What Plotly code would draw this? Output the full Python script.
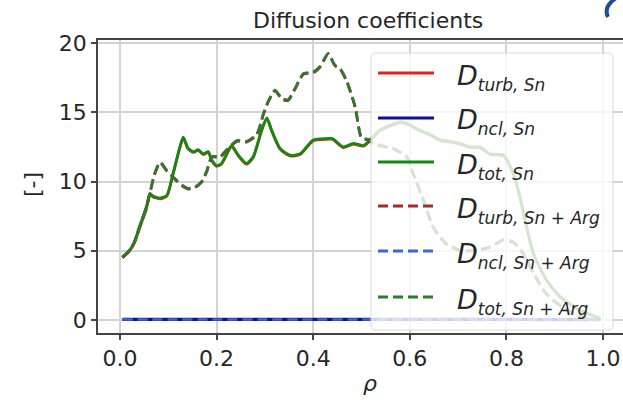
import plotly.graph_objects as go

# ---------------- data ----------------
rho_Sn = [0.005, 0.02, 0.03, 0.04, 0.055, 0.062, 0.068, 0.083, 0.097, 0.11, 0.124, 0.131,
          0.141, 0.152, 0.162, 0.172, 0.183, 0.19, 0.2, 0.21, 0.221, 0.231, 0.245, 0.262,
          0.276, 0.293, 0.304, 0.314, 0.331, 0.352, 0.373, 0.4, 0.428, 0.44, 0.462, 0.483,
          0.504, 0.518, 0.538, 0.58, 0.6, 0.621, 0.642, 0.663, 0.683, 0.704, 0.725, 0.745,
          0.766, 0.794, 0.814, 0.828, 0.842, 0.856, 0.883, 0.911, 0.952, 0.994]
D_turb_Sn = [4.5, 5.0, 5.6, 6.6, 8.1, 9.1, 8.9, 8.75, 8.95, 10.55, 12.45, 13.15,
             12.35, 12.1, 12.25, 11.95, 12.1, 11.5, 11.1, 11.25, 11.95, 12.55, 11.85, 11.25,
             11.75, 13.65, 14.55, 13.65, 12.35, 11.85, 11.95, 12.95, 13.05, 13.05, 12.45, 12.7,
             12.55, 12.95, 13.65, 14.25, 14.05, 13.65, 13.35, 12.95, 12.85, 12.7, 12.45, 12.45,
             11.95, 11.85, 10.55, 8.85, 6.65, 4.75, 2.85, 1.65, 0.7, 0.1]
D_tot_Sn = [4.55, 5.05, 5.65, 6.7, 8.2, 9.15, 8.95, 8.8, 9.0, 10.6, 12.5, 13.2,
            12.4, 12.15, 12.3, 12.0, 12.15, 11.55, 11.15, 11.3, 12.0, 12.6, 11.9, 11.3,
            11.8, 13.7, 14.6, 13.7, 12.4, 11.9, 12.0, 13.0, 13.1, 13.1, 12.5, 12.75,
            12.6, 13.0, 13.7, 14.3, 14.1, 13.7, 13.4, 13.0, 12.9, 12.75, 12.5, 12.5,
            12.0, 11.9, 10.6, 8.9, 6.7, 4.8, 2.9, 1.7, 0.72, 0.12]

rho_SnArg = [0.005, 0.02, 0.03, 0.04, 0.055, 0.062, 0.072, 0.083, 0.097, 0.114, 0.128, 0.141,
             0.155, 0.169, 0.18, 0.19, 0.207, 0.221, 0.242, 0.262, 0.283, 0.297, 0.307, 0.321,
             0.335, 0.348, 0.362, 0.38, 0.4, 0.414, 0.431, 0.445, 0.455, 0.469, 0.487, 0.5,
             0.518, 0.524, 0.566, 0.594, 0.607, 0.628, 0.649, 0.676, 0.704, 0.738, 0.766,
             0.794, 0.814, 0.835, 0.856, 0.883, 0.925, 0.966, 0.995]
D_turb_SnArg = [4.5, 5.0, 5.6, 6.6, 8.1, 9.15, 10.55, 11.35, 10.75, 10.15, 9.7, 9.45,
                9.55, 9.95, 10.75, 11.75, 11.75, 12.25, 12.9, 12.85, 13.35, 14.85, 15.75, 16.55,
                15.95, 15.85, 16.65, 17.75, 17.85, 18.25, 19.2, 18.35, 18.15, 17.25, 15.35, 13.15,
                12.95, 12.7, 12.35, 11.75, 10.55, 8.65, 6.65, 5.45, 5.0, 5.0, 5.25,
                5.75, 5.6, 4.75, 3.35, 1.85, 0.7, 0.1, 0.02]
D_tot_SnArg = [4.55, 5.05, 5.65, 6.7, 8.2, 9.2, 10.6, 11.4, 10.8, 10.2, 9.75, 9.5,
               9.6, 10.0, 10.8, 11.8, 11.8, 12.3, 12.95, 12.9, 13.4, 14.9, 15.8, 16.6,
               16.0, 15.9, 16.7, 17.8, 17.9, 18.3, 19.25, 18.4, 18.2, 17.3, 15.4, 13.2,
               13.0, 12.75, 12.4, 11.8, 10.6, 8.7, 6.7, 5.5, 5.05, 5.05, 5.3,
               5.8, 5.65, 4.8, 3.4, 1.9, 0.72, 0.12, 0.02]

rho_ncl = [0.005, 0.1, 0.2, 0.3, 0.4, 0.5, 0.6, 0.7, 0.8, 0.9, 0.995]
D_ncl_Sn = [0.04, 0.04, 0.04, 0.04, 0.04, 0.04, 0.04, 0.04, 0.04, 0.03, 0.02]
D_ncl_SnArg = [0.04, 0.04, 0.04, 0.04, 0.04, 0.04, 0.04, 0.04, 0.04, 0.03, 0.02]

x_ticks = [0.0, 0.2, 0.4, 0.6, 0.8, 1.0]
x_tick_labels = ["0.0", "0.2", "0.4", "0.6", "0.8", "1.0"]
y_ticks = [0, 5, 10, 15, 20]
y_tick_labels = ["0", "5", "10", "15", "20"]

SUB = "<sub><span style='font-size:17px'>{}</span></sub>"
labels = [
    "<i>D</i>" + SUB.format("<i>turb, Sn</i>"),
    "<i>D</i>" + SUB.format("<i>ncl, Sn</i>"),
    "<i>D</i>" + SUB.format("<i>tot, Sn</i>"),
    "<i>D</i>" + SUB.format("<i>turb, Sn</i> + <i>Arg</i>"),
    "<i>D</i>" + SUB.format("<i>ncl, Sn</i> + <i>Arg</i>"),
    "<i>D</i>" + SUB.format("<i>tot, Sn</i> + <i>Arg</i>"),
]

# ---------------- styling ----------------
W, H = 623, 400
L, R, T, B = 98, 0, 40, 67
PW, PH = W - L - R, H - T - B
FONT = "DejaVu Sans"
TXT = "#262626"
DASH = "10px,5px"
colors = ["#e8201c", "#10109a", "#118a11", "#a52a2a", "#3f63d8", "#2e7a2e"]
dashes = ["solid", "solid", "solid", DASH, DASH, DASH]
widths = [2.8, 3.2, 2.8, 2.8, 2.4, 2.8]

series = [
    (rho_Sn, D_turb_Sn),
    (rho_ncl, D_ncl_Sn),
    (rho_Sn, D_tot_Sn),
    (rho_SnArg, D_turb_SnArg),
    (rho_ncl, D_ncl_SnArg),
    (rho_SnArg, D_tot_SnArg),
]

fig = go.Figure()
for (xs, ys), c, d, w, lab in zip(series, colors, dashes, widths, labels):
    fig.add_trace(go.Scatter(x=xs, y=ys, mode="lines", name=lab, showlegend=False,
                             line=dict(color=c, width=w, dash=d, shape="spline",
                                       smoothing=0.6)))


def px(xp):
    return (xp - L) / PW


def py(yp):
    return (H - B - yp) / PH


shapes = []
# legend box (semi-transparent, rounded)
x0, x1, y0, y1 = px(371), px(613), py(53), py(330)
rx, ry = 5 / PW, 5 / PH
shapes.append(dict(
    type="path", xref="paper", yref="paper", layer="above",
    path=(f"M {x0+rx},{y0} L {x1-rx},{y0} Q {x1},{y0} {x1},{y0-ry} "
          f"L {x1},{y1+ry} Q {x1},{y1} {x1-rx},{y1} L {x0+rx},{y1} "
          f"Q {x0},{y1} {x0},{y1+ry} L {x0},{y0-ry} Q {x0},{y0} {x0+rx},{y0} Z"),
    fillcolor="rgba(255,255,255,0.8)", line=dict(color="rgba(210,210,210,0.8)", width=1)))

row_y = [73, 118, 162, 206, 251, 297]
annotations = []
for yy, c, d, lab in zip(row_y, colors, dashes, labels):
    shapes.append(dict(type="line", xref="paper", yref="paper", layer="above",
                       x0=px(378), x1=px(434), y0=py(yy), y1=py(yy),
                       line=dict(color=c, width=2.8, dash=d)))
    annotations.append(dict(text=lab, xref="paper", yref="paper", x=px(455), y=py(yy + 4),
                            xanchor="left", yanchor="middle", showarrow=False,
                            font=dict(family=FONT, size=27, color=TXT)))

# small cropped blue glyph at the top-right corner of the picture
shapes.append(dict(type="path", xref="paper", yref="paper", layer="above",
                   path=f"M {px(616)},{py(-2)} Q {px(603)},{py(7)} {px(608)},{py(17)}",
                   line=dict(color="#1d4f91", width=4)))

annotations.append(dict(text="Diffusion coefficients", xref="paper", yref="paper",
                        x=px(368), y=py(20), xanchor="center", yanchor="middle",
                        showarrow=False, font=dict(family=FONT, size=22, color=TXT)))
annotations.append(dict(text="<i>ρ</i>", xref="paper", yref="paper",
                        x=px(370), y=py(383), xanchor="center", yanchor="middle",
                        showarrow=False, font=dict(family=FONT, size=22, color=TXT)))
annotations.append(dict(text="[-]", xref="paper", yref="paper", textangle=-90,
                        x=px(32), y=py(185), xanchor="center", yanchor="middle",
                        showarrow=False, font=dict(family=FONT, size=22, color=TXT)))

fig.update_layout(
    width=W, height=H, margin=dict(l=L, r=R, t=T, b=B),
    paper_bgcolor="white", plot_bgcolor="white",
    font=dict(family=FONT, size=22, color=TXT),
    shapes=shapes, annotations=annotations,
    xaxis=dict(range=[-22 / 483, (W - 120) / 483], tickvals=x_ticks, ticktext=x_tick_labels,
               showgrid=True, gridcolor="#d3d3d3", gridwidth=1.5, zeroline=False,
               showline=True, linecolor="#444444", linewidth=1.8, mirror=True,
               ticks="outside", ticklen=5, tickwidth=1.5, tickcolor="#444444",
               tickfont=dict(family=FONT, size=22, color=TXT)),
    yaxis=dict(range=[-(333 - 320) / 13.85, (320 - 40) / 13.85], tickvals=y_ticks,
               ticktext=y_tick_labels,
               showgrid=True, gridcolor="#d3d3d3", gridwidth=1.5, zeroline=False,
               showline=True, linecolor="#444444", linewidth=1.8, mirror=False,
               ticks="outside", ticklen=5, tickwidth=1.5, tickcolor="#444444",
               tickfont=dict(family=FONT, size=22, color=TXT)),
)

fig.write_html("out.html")
